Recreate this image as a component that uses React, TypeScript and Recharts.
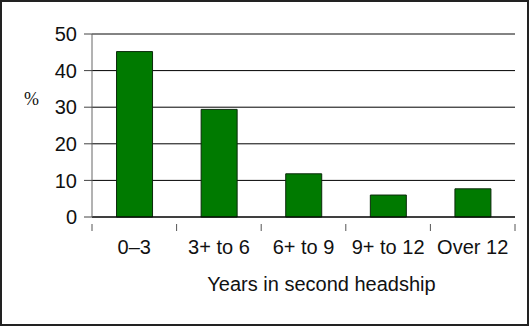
import React from 'react';
import { BarChart, Bar, XAxis, YAxis, CartesianGrid, ReferenceLine, Label } from 'recharts';

const categories = ['0–3', '3+ to 6', '6+ to 9', '9+ to 12', 'Over 12'];
const shares = [45.2, 29.4, 11.8, 6.0, 7.7];
const yTicks = [0, 10, 20, 30, 40, 50];

const data = categories.map((name, i) => ({ name, value: shares[i] }));

const W = 531;
const H = 328;
const M = { top: 34, right: 16, bottom: 11, left: 0 };
const Y_W = 92;
const BAND = (W - M.left - M.right - Y_W) / categories.length;

const FONT = '"Liberation Sans", Arial, sans-serif';

const XTick = (props: any) => {
  const { x, y, payload, index } = props;
  const last = index === categories.length - 1;
  return (
    <g>
      <line x1={x - BAND / 2} x2={x - BAND / 2} y1={y - 1} y2={y + 6} stroke="#555" />
      {last && <line x1={x + BAND / 2} x2={x + BAND / 2} y1={y - 1} y2={y + 6} stroke="#555" />}
      <text x={x} y={y + 29} textAnchor="middle" fontFamily={FONT} fontSize={20} fill="#111">
        {payload.value}
      </text>
    </g>
  );
};

const App: React.FC = () => {
  return (
    <div style={{ position: 'absolute', left: 0, top: 0, width: W, height: H, background: '#fff' }}>
      <div
        style={{
          position: 'absolute', left: 0, top: 0, width: 529, height: 326,
          border: '2px solid #222', boxSizing: 'border-box',
        }}
      />
      <div style={{ position: 'absolute', left: 24, top: 89, fontFamily: '"Liberation Serif", serif', fontSize: 18, color: '#111' }}>
        %
      </div>
      <div style={{ position: 'absolute', left: 0, top: 0 }}>
        <BarChart width={W} height={H} data={data} margin={M} barCategoryGap="29%">
          <CartesianGrid horizontal vertical={false} stroke="#000" />
          <XAxis
            dataKey="name"
            height={100}
            tickLine={false}
            axisLine={{ stroke: '#000' }}
            tick={<XTick />}
            interval={0}
          >
            <Label
              value="Years in second headship"
              position="insideBottom"
              offset={26}
              dx={18}
              style={{ fontFamily: FONT, fontSize: 20, fill: '#111' }}
            />
          </XAxis>
          <YAxis
            width={Y_W}
            domain={[0, 50]}
            ticks={yTicks}
            interval={0}
            tickSize={8}
            tickMargin={7}
            axisLine={{ stroke: '#666' }}
            tickLine={{ stroke: '#444' }}
            tick={{ fontFamily: FONT, fontSize: 20, fill: '#111' }}
          />
          <YAxis
            yAxisId="right"
            orientation="right"
            width={0}
            domain={[0, 50]}
            tick={false}
            tickLine={false}
            axisLine={{ stroke: '#999' }}
          />
          <ReferenceLine y={50} stroke="#888" />
          <Bar dataKey="value" fill="#007a00" stroke="#0b2a0b" strokeWidth={1} isAnimationActive={false} />
        </BarChart>
      </div>
    </div>
  );
};

export default App;
